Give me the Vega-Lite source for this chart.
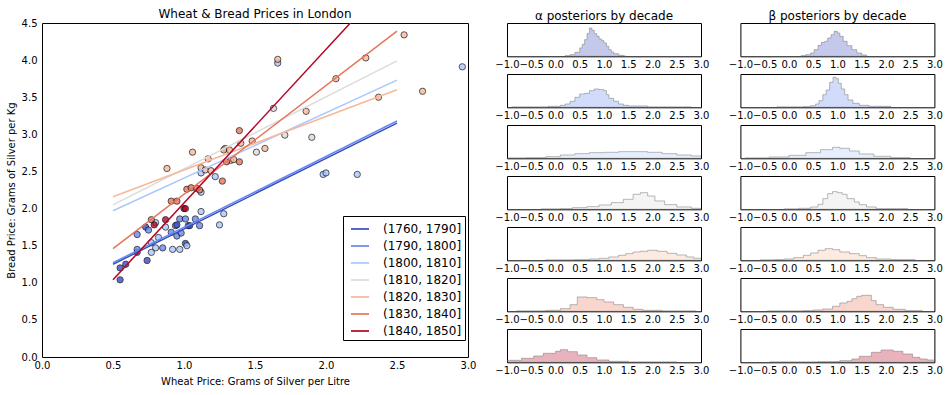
{
  "$schema": "https://vega.github.io/schema/vega-lite/v6.json",
  "padding": {"left": 5, "top": 7, "right": 5, "bottom": 5},
  "spacing": 17,
  "config": {
    "font": "DejaVu Sans",
    "view": {"stroke": "black", "strokeWidth": 1},
    "title": {"fontSize": 12, "fontWeight": "normal", "color": "black", "font": "DejaVu Sans", "offset": 4},
    "axis": {"labelFontSize": 10, "titleFontSize": 10, "titleFontWeight": "normal", "grid": false, "ticks": false, "domain": false, "labelColor": "black", "titleColor": "black", "labelFlush": false, "labelOverlap": false, "labelBound": false, "labelFont": "DejaVu Sans", "titleFont": "DejaVu Sans"},
    "legend": {"labelFont": "DejaVu Sans"}
  },
  "datasets": {
    "pts": [
      {"decade": "(1760, 1790]", "x": 0.55, "y": 1.04},
      {"decade": "(1760, 1790]", "x": 0.55, "y": 1.20},
      {"decade": "(1760, 1790]", "x": 0.59, "y": 1.25},
      {"decade": "(1760, 1790]", "x": 0.74, "y": 1.30},
      {"decade": "(1760, 1790]", "x": 0.67, "y": 1.41},
      {"decade": "(1790, 1800]", "x": 0.67, "y": 1.45},
      {"decade": "(1790, 1800]", "x": 0.85, "y": 1.47},
      {"decade": "(1790, 1800]", "x": 0.67, "y": 1.65},
      {"decade": "(1760, 1790]", "x": 0.73, "y": 1.75},
      {"decade": "(1790, 1800]", "x": 0.75, "y": 1.71},
      {"decade": "(1790, 1800]", "x": 0.91, "y": 1.68},
      {"decade": "(1790, 1800]", "x": 0.95, "y": 1.63},
      {"decade": "(1790, 1800]", "x": 0.98, "y": 1.67},
      {"decade": "(1790, 1800]", "x": 0.94, "y": 1.77},
      {"decade": "(1760, 1790]", "x": 0.95, "y": 1.78},
      {"decade": "(1790, 1800]", "x": 0.97, "y": 1.86},
      {"decade": "(1790, 1800]", "x": 1.01, "y": 1.86},
      {"decade": "(1790, 1800]", "x": 1.03, "y": 1.77},
      {"decade": "(1760, 1790]", "x": 1.04, "y": 1.77},
      {"decade": "(1790, 1800]", "x": 1.08, "y": 1.86},
      {"decade": "(1790, 1800]", "x": 1.11, "y": 1.77},
      {"decade": "(1760, 1790]", "x": 1.01, "y": 1.53},
      {"decade": "(1800, 1810]", "x": 1.02, "y": 1.50},
      {"decade": "(1800, 1810]", "x": 0.92, "y": 1.45},
      {"decade": "(1800, 1810]", "x": 0.97, "y": 1.45},
      {"decade": "(1800, 1810]", "x": 0.77, "y": 1.54},
      {"decade": "(1800, 1810]", "x": 0.80, "y": 1.47},
      {"decade": "(1800, 1810]", "x": 0.77, "y": 1.41},
      {"decade": "(1800, 1810]", "x": 0.82, "y": 1.61},
      {"decade": "(1800, 1810]", "x": 0.87, "y": 1.75},
      {"decade": "(1800, 1810]", "x": 0.80, "y": 1.81},
      {"decade": "(1800, 1810]", "x": 1.12, "y": 1.96},
      {"decade": "(1800, 1810]", "x": 1.25, "y": 1.78},
      {"decade": "(1800, 1810]", "x": 1.28, "y": 1.93},
      {"decade": "(1800, 1810]", "x": 1.12, "y": 2.22},
      {"decade": "(1800, 1810]", "x": 1.12, "y": 2.48},
      {"decade": "(1800, 1810]", "x": 1.22, "y": 2.43},
      {"decade": "(1800, 1810]", "x": 1.98, "y": 2.46},
      {"decade": "(1800, 1810]", "x": 2.00, "y": 2.48},
      {"decade": "(1800, 1810]", "x": 2.22, "y": 2.46},
      {"decade": "(1800, 1810]", "x": 2.96, "y": 3.91},
      {"decade": "(1800, 1810]", "x": 1.66, "y": 3.96},
      {"decade": "(1810, 1820]", "x": 1.63, "y": 3.35},
      {"decade": "(1810, 1820]", "x": 1.71, "y": 2.99},
      {"decade": "(1810, 1820]", "x": 1.90, "y": 2.96},
      {"decade": "(1810, 1820]", "x": 1.51, "y": 2.76},
      {"decade": "(1820, 1830]", "x": 2.55, "y": 4.34},
      {"decade": "(1820, 1830]", "x": 2.68, "y": 3.58},
      {"decade": "(1820, 1830]", "x": 2.37, "y": 3.50},
      {"decade": "(1820, 1830]", "x": 2.28, "y": 4.03},
      {"decade": "(1820, 1830]", "x": 2.07, "y": 3.75},
      {"decade": "(1820, 1830]", "x": 1.66, "y": 4.01},
      {"decade": "(1820, 1830]", "x": 1.86, "y": 3.31},
      {"decade": "(1820, 1830]", "x": 0.88, "y": 2.54},
      {"decade": "(1820, 1830]", "x": 1.06, "y": 2.76},
      {"decade": "(1820, 1830]", "x": 1.17, "y": 2.67},
      {"decade": "(1820, 1830]", "x": 1.12, "y": 2.55},
      {"decade": "(1820, 1830]", "x": 1.29, "y": 2.81},
      {"decade": "(1820, 1830]", "x": 1.28, "y": 2.79},
      {"decade": "(1820, 1830]", "x": 1.32, "y": 2.79},
      {"decade": "(1820, 1830]", "x": 1.33, "y": 2.65},
      {"decade": "(1820, 1830]", "x": 1.35, "y": 2.66},
      {"decade": "(1820, 1830]", "x": 1.40, "y": 2.88},
      {"decade": "(1820, 1830]", "x": 1.48, "y": 2.91},
      {"decade": "(1820, 1830]", "x": 1.57, "y": 2.81},
      {"decade": "(1820, 1830]", "x": 1.15, "y": 2.52},
      {"decade": "(1820, 1830]", "x": 1.19, "y": 2.51},
      {"decade": "(1830, 1840]", "x": 1.39, "y": 3.05},
      {"decade": "(1830, 1840]", "x": 1.27, "y": 2.37},
      {"decade": "(1830, 1840]", "x": 1.30, "y": 2.63},
      {"decade": "(1830, 1840]", "x": 1.39, "y": 2.63},
      {"decade": "(1830, 1840]", "x": 1.02, "y": 2.26},
      {"decade": "(1830, 1840]", "x": 1.05, "y": 2.28},
      {"decade": "(1830, 1840]", "x": 1.09, "y": 2.27},
      {"decade": "(1830, 1840]", "x": 1.11, "y": 2.25},
      {"decade": "(1830, 1840]", "x": 0.91, "y": 2.10},
      {"decade": "(1830, 1840]", "x": 0.95, "y": 2.10},
      {"decade": "(1830, 1840]", "x": 0.77, "y": 1.85},
      {"decade": "(1840, 1850]", "x": 1.00, "y": 2.00},
      {"decade": "(1840, 1850]", "x": 1.01, "y": 2.00},
      {"decade": "(1840, 1850]", "x": 0.87, "y": 1.85},
      {"decade": "(1840, 1850]", "x": 0.79, "y": 1.78}
    ],
    "fits": [
      {"decade": "(1760, 1790]", "x": 0.5, "y": 1.25}, {"decade": "(1760, 1790]", "x": 2.5, "y": 3.15},
      {"decade": "(1790, 1800]", "x": 0.5, "y": 1.27}, {"decade": "(1790, 1800]", "x": 2.5, "y": 3.18},
      {"decade": "(1800, 1810]", "x": 0.5, "y": 1.97}, {"decade": "(1800, 1810]", "x": 2.5, "y": 3.73},
      {"decade": "(1810, 1820]", "x": 0.5, "y": 2.05}, {"decade": "(1810, 1820]", "x": 2.5, "y": 3.99},
      {"decade": "(1820, 1830]", "x": 0.5, "y": 2.16}, {"decade": "(1820, 1830]", "x": 2.5, "y": 3.60},
      {"decade": "(1830, 1840]", "x": 0.5, "y": 1.46}, {"decade": "(1830, 1840]", "x": 2.5, "y": 4.39},
      {"decade": "(1840, 1850]", "x": 0.5, "y": 1.04}, {"decade": "(1840, 1850]", "x": 2.5, "y": 5.18}
    ],
    "hist": [
      {"param": "α", "decade": "(1760, 1790]", "x": 0.2, "h": 0.02},
      {"param": "α", "decade": "(1760, 1790]", "x": 0.3, "h": 0.05},
      {"param": "α", "decade": "(1760, 1790]", "x": 0.4, "h": 0.12},
      {"param": "α", "decade": "(1760, 1790]", "x": 0.5, "h": 0.25},
      {"param": "α", "decade": "(1760, 1790]", "x": 0.55, "h": 0.36},
      {"param": "α", "decade": "(1760, 1790]", "x": 0.6, "h": 0.5},
      {"param": "α", "decade": "(1760, 1790]", "x": 0.65, "h": 0.68},
      {"param": "α", "decade": "(1760, 1790]", "x": 0.7, "h": 0.85},
      {"param": "α", "decade": "(1760, 1790]", "x": 0.75, "h": 0.78},
      {"param": "α", "decade": "(1760, 1790]", "x": 0.8, "h": 0.68},
      {"param": "α", "decade": "(1760, 1790]", "x": 0.85, "h": 0.6},
      {"param": "α", "decade": "(1760, 1790]", "x": 0.9, "h": 0.52},
      {"param": "α", "decade": "(1760, 1790]", "x": 0.95, "h": 0.47},
      {"param": "α", "decade": "(1760, 1790]", "x": 1.0, "h": 0.4},
      {"param": "α", "decade": "(1760, 1790]", "x": 1.05, "h": 0.3},
      {"param": "α", "decade": "(1760, 1790]", "x": 1.1, "h": 0.2},
      {"param": "α", "decade": "(1760, 1790]", "x": 1.15, "h": 0.13},
      {"param": "α", "decade": "(1760, 1790]", "x": 1.2, "h": 0.08},
      {"param": "α", "decade": "(1760, 1790]", "x": 1.3, "h": 0.03},
      {"param": "α", "decade": "(1760, 1790]", "x": 1.4, "h": 0.01},
      {"param": "α", "decade": "(1760, 1790]", "x": 1.45, "h": 0},

      {"param": "α", "decade": "(1790, 1800]", "x": -0.9, "h": 0.01},
      {"param": "α", "decade": "(1790, 1800]", "x": -0.15, "h": 0.03},
      {"param": "α", "decade": "(1790, 1800]", "x": 0.1, "h": 0.06},
      {"param": "α", "decade": "(1790, 1800]", "x": 0.2, "h": 0.1},
      {"param": "α", "decade": "(1790, 1800]", "x": 0.3, "h": 0.18},
      {"param": "α", "decade": "(1790, 1800]", "x": 0.4, "h": 0.3},
      {"param": "α", "decade": "(1790, 1800]", "x": 0.5, "h": 0.4},
      {"param": "α", "decade": "(1790, 1800]", "x": 0.6, "h": 0.42},
      {"param": "α", "decade": "(1790, 1800]", "x": 0.7, "h": 0.5},
      {"param": "α", "decade": "(1790, 1800]", "x": 0.8, "h": 0.55},
      {"param": "α", "decade": "(1790, 1800]", "x": 0.9, "h": 0.53},
      {"param": "α", "decade": "(1790, 1800]", "x": 1.0, "h": 0.5},
      {"param": "α", "decade": "(1790, 1800]", "x": 1.05, "h": 0.38},
      {"param": "α", "decade": "(1790, 1800]", "x": 1.1, "h": 0.27},
      {"param": "α", "decade": "(1790, 1800]", "x": 1.2, "h": 0.18},
      {"param": "α", "decade": "(1790, 1800]", "x": 1.3, "h": 0.1},
      {"param": "α", "decade": "(1790, 1800]", "x": 1.4, "h": 0.06},
      {"param": "α", "decade": "(1790, 1800]", "x": 1.5, "h": 0.04},
      {"param": "α", "decade": "(1790, 1800]", "x": 1.9, "h": 0.01},
      {"param": "α", "decade": "(1790, 1800]", "x": 2.8, "h": 0},

      {"param": "α", "decade": "(1800, 1810]", "x": -1.0, "h": 0.01},
      {"param": "α", "decade": "(1800, 1810]", "x": -0.6, "h": 0.02},
      {"param": "α", "decade": "(1800, 1810]", "x": -0.2, "h": 0.05},
      {"param": "α", "decade": "(1800, 1810]", "x": 0.1, "h": 0.1},
      {"param": "α", "decade": "(1800, 1810]", "x": 0.4, "h": 0.14},
      {"param": "α", "decade": "(1800, 1810]", "x": 0.7, "h": 0.17},
      {"param": "α", "decade": "(1800, 1810]", "x": 1.0, "h": 0.18},
      {"param": "α", "decade": "(1800, 1810]", "x": 1.3, "h": 0.2},
      {"param": "α", "decade": "(1800, 1810]", "x": 1.6, "h": 0.2},
      {"param": "α", "decade": "(1800, 1810]", "x": 1.9, "h": 0.18},
      {"param": "α", "decade": "(1800, 1810]", "x": 2.2, "h": 0.14},
      {"param": "α", "decade": "(1800, 1810]", "x": 2.5, "h": 0.1},
      {"param": "α", "decade": "(1800, 1810]", "x": 2.8, "h": 0.07},
      {"param": "α", "decade": "(1800, 1810]", "x": 3.0, "h": 0.06},
      {"param": "α", "decade": "(1800, 1810]", "x": 3.2, "h": 0},

      {"param": "α", "decade": "(1810, 1820]", "x": -0.3, "h": 0.01},
      {"param": "α", "decade": "(1810, 1820]", "x": 0.1, "h": 0.02},
      {"param": "α", "decade": "(1810, 1820]", "x": 0.35, "h": 0.05},
      {"param": "α", "decade": "(1810, 1820]", "x": 0.65, "h": 0.08},
      {"param": "α", "decade": "(1810, 1820]", "x": 0.9, "h": 0.13},
      {"param": "α", "decade": "(1810, 1820]", "x": 1.15, "h": 0.2},
      {"param": "α", "decade": "(1810, 1820]", "x": 1.4, "h": 0.3},
      {"param": "α", "decade": "(1810, 1820]", "x": 1.6, "h": 0.45},
      {"param": "α", "decade": "(1810, 1820]", "x": 1.75, "h": 0.5},
      {"param": "α", "decade": "(1810, 1820]", "x": 1.9, "h": 0.4},
      {"param": "α", "decade": "(1810, 1820]", "x": 2.05, "h": 0.25},
      {"param": "α", "decade": "(1810, 1820]", "x": 2.25, "h": 0.14},
      {"param": "α", "decade": "(1810, 1820]", "x": 2.5, "h": 0.07},
      {"param": "α", "decade": "(1810, 1820]", "x": 2.8, "h": 0.03},
      {"param": "α", "decade": "(1810, 1820]", "x": 3.0, "h": 0.02},
      {"param": "α", "decade": "(1810, 1820]", "x": 3.2, "h": 0},

      {"param": "α", "decade": "(1820, 1830]", "x": -0.2, "h": 0.01},
      {"param": "α", "decade": "(1820, 1830]", "x": 0.4, "h": 0.02},
      {"param": "α", "decade": "(1820, 1830]", "x": 0.7, "h": 0.04},
      {"param": "α", "decade": "(1820, 1830]", "x": 0.9, "h": 0.06},
      {"param": "α", "decade": "(1820, 1830]", "x": 1.1, "h": 0.1},
      {"param": "α", "decade": "(1820, 1830]", "x": 1.3, "h": 0.15},
      {"param": "α", "decade": "(1820, 1830]", "x": 1.45, "h": 0.2},
      {"param": "α", "decade": "(1820, 1830]", "x": 1.6, "h": 0.25},
      {"param": "α", "decade": "(1820, 1830]", "x": 1.75, "h": 0.27},
      {"param": "α", "decade": "(1820, 1830]", "x": 1.9, "h": 0.3},
      {"param": "α", "decade": "(1820, 1830]", "x": 2.1, "h": 0.27},
      {"param": "α", "decade": "(1820, 1830]", "x": 2.3, "h": 0.21},
      {"param": "α", "decade": "(1820, 1830]", "x": 2.5, "h": 0.16},
      {"param": "α", "decade": "(1820, 1830]", "x": 2.7, "h": 0.1},
      {"param": "α", "decade": "(1820, 1830]", "x": 2.85, "h": 0.06},
      {"param": "α", "decade": "(1820, 1830]", "x": 3.0, "h": 0.04},
      {"param": "α", "decade": "(1820, 1830]", "x": 3.2, "h": 0},

      {"param": "α", "decade": "(1830, 1840]", "x": -0.8, "h": 0.01},
      {"param": "α", "decade": "(1830, 1840]", "x": -0.2, "h": 0.03},
      {"param": "α", "decade": "(1830, 1840]", "x": 0.1, "h": 0.08},
      {"param": "α", "decade": "(1830, 1840]", "x": 0.3, "h": 0.2},
      {"param": "α", "decade": "(1830, 1840]", "x": 0.45, "h": 0.43},
      {"param": "α", "decade": "(1830, 1840]", "x": 0.65, "h": 0.41},
      {"param": "α", "decade": "(1830, 1840]", "x": 0.85, "h": 0.35},
      {"param": "α", "decade": "(1830, 1840]", "x": 1.0, "h": 0.28},
      {"param": "α", "decade": "(1830, 1840]", "x": 1.2, "h": 0.2},
      {"param": "α", "decade": "(1830, 1840]", "x": 1.4, "h": 0.12},
      {"param": "α", "decade": "(1830, 1840]", "x": 1.6, "h": 0.06},
      {"param": "α", "decade": "(1830, 1840]", "x": 1.8, "h": 0.03},
      {"param": "α", "decade": "(1830, 1840]", "x": 2.2, "h": 0.01},
      {"param": "α", "decade": "(1830, 1840]", "x": 2.9, "h": 0},

      {"param": "α", "decade": "(1840, 1850]", "x": -1.2, "h": 0.04},
      {"param": "α", "decade": "(1840, 1850]", "x": -1.0, "h": 0.06},
      {"param": "α", "decade": "(1840, 1850]", "x": -0.7, "h": 0.12},
      {"param": "α", "decade": "(1840, 1850]", "x": -0.45, "h": 0.19},
      {"param": "α", "decade": "(1840, 1850]", "x": -0.25, "h": 0.27},
      {"param": "α", "decade": "(1840, 1850]", "x": 0.0, "h": 0.33},
      {"param": "α", "decade": "(1840, 1850]", "x": 0.1, "h": 0.38},
      {"param": "α", "decade": "(1840, 1850]", "x": 0.25, "h": 0.32},
      {"param": "α", "decade": "(1840, 1850]", "x": 0.45, "h": 0.22},
      {"param": "α", "decade": "(1840, 1850]", "x": 0.65, "h": 0.14},
      {"param": "α", "decade": "(1840, 1850]", "x": 0.85, "h": 0.07},
      {"param": "α", "decade": "(1840, 1850]", "x": 1.1, "h": 0.03},
      {"param": "α", "decade": "(1840, 1850]", "x": 1.5, "h": 0.01},
      {"param": "α", "decade": "(1840, 1850]", "x": 2.5, "h": 0},

      {"param": "β", "decade": "(1760, 1790]", "x": 0.25, "h": 0.02},
      {"param": "β", "decade": "(1760, 1790]", "x": 0.35, "h": 0.05},
      {"param": "β", "decade": "(1760, 1790]", "x": 0.45, "h": 0.1},
      {"param": "β", "decade": "(1760, 1790]", "x": 0.52, "h": 0.2},
      {"param": "β", "decade": "(1760, 1790]", "x": 0.6, "h": 0.33},
      {"param": "β", "decade": "(1760, 1790]", "x": 0.67, "h": 0.42},
      {"param": "β", "decade": "(1760, 1790]", "x": 0.74, "h": 0.45},
      {"param": "β", "decade": "(1760, 1790]", "x": 0.8, "h": 0.55},
      {"param": "β", "decade": "(1760, 1790]", "x": 0.87, "h": 0.65},
      {"param": "β", "decade": "(1760, 1790]", "x": 0.93, "h": 0.75},
      {"param": "β", "decade": "(1760, 1790]", "x": 1.0, "h": 0.7},
      {"param": "β", "decade": "(1760, 1790]", "x": 1.05, "h": 0.6},
      {"param": "β", "decade": "(1760, 1790]", "x": 1.12, "h": 0.45},
      {"param": "β", "decade": "(1760, 1790]", "x": 1.2, "h": 0.32},
      {"param": "β", "decade": "(1760, 1790]", "x": 1.3, "h": 0.2},
      {"param": "β", "decade": "(1760, 1790]", "x": 1.4, "h": 0.1},
      {"param": "β", "decade": "(1760, 1790]", "x": 1.5, "h": 0.04},
      {"param": "β", "decade": "(1760, 1790]", "x": 1.6, "h": 0},

      {"param": "β", "decade": "(1790, 1800]", "x": -0.25, "h": 0.01},
      {"param": "β", "decade": "(1790, 1800]", "x": 0.3, "h": 0.02},
      {"param": "β", "decade": "(1790, 1800]", "x": 0.45, "h": 0.05},
      {"param": "β", "decade": "(1790, 1800]", "x": 0.55, "h": 0.1},
      {"param": "β", "decade": "(1790, 1800]", "x": 0.62, "h": 0.2},
      {"param": "β", "decade": "(1790, 1800]", "x": 0.7, "h": 0.38},
      {"param": "β", "decade": "(1790, 1800]", "x": 0.77, "h": 0.52},
      {"param": "β", "decade": "(1790, 1800]", "x": 0.84, "h": 0.75},
      {"param": "β", "decade": "(1790, 1800]", "x": 0.91, "h": 0.9},
      {"param": "β", "decade": "(1790, 1800]", "x": 0.97, "h": 0.86},
      {"param": "β", "decade": "(1790, 1800]", "x": 1.02, "h": 0.72},
      {"param": "β", "decade": "(1790, 1800]", "x": 1.08, "h": 0.55},
      {"param": "β", "decade": "(1790, 1800]", "x": 1.15, "h": 0.38},
      {"param": "β", "decade": "(1790, 1800]", "x": 1.22, "h": 0.22},
      {"param": "β", "decade": "(1790, 1800]", "x": 1.32, "h": 0.12},
      {"param": "β", "decade": "(1790, 1800]", "x": 1.45, "h": 0.06},
      {"param": "β", "decade": "(1790, 1800]", "x": 1.65, "h": 0.03},
      {"param": "β", "decade": "(1790, 1800]", "x": 2.1, "h": 0},

      {"param": "β", "decade": "(1800, 1810]", "x": -0.9, "h": 0.01},
      {"param": "β", "decade": "(1800, 1810]", "x": -0.4, "h": 0.04},
      {"param": "β", "decade": "(1800, 1810]", "x": 0.0, "h": 0.09},
      {"param": "β", "decade": "(1800, 1810]", "x": 0.35, "h": 0.17},
      {"param": "β", "decade": "(1800, 1810]", "x": 0.65, "h": 0.26},
      {"param": "β", "decade": "(1800, 1810]", "x": 0.9, "h": 0.33},
      {"param": "β", "decade": "(1800, 1810]", "x": 1.05, "h": 0.3},
      {"param": "β", "decade": "(1800, 1810]", "x": 1.25, "h": 0.22},
      {"param": "β", "decade": "(1800, 1810]", "x": 1.45, "h": 0.13},
      {"param": "β", "decade": "(1800, 1810]", "x": 1.75, "h": 0.06},
      {"param": "β", "decade": "(1800, 1810]", "x": 2.1, "h": 0.02},
      {"param": "β", "decade": "(1800, 1810]", "x": 2.5, "h": 0},

      {"param": "β", "decade": "(1810, 1820]", "x": -0.1, "h": 0.01},
      {"param": "β", "decade": "(1810, 1820]", "x": 0.2, "h": 0.03},
      {"param": "β", "decade": "(1810, 1820]", "x": 0.45, "h": 0.07},
      {"param": "β", "decade": "(1810, 1820]", "x": 0.6, "h": 0.15},
      {"param": "β", "decade": "(1810, 1820]", "x": 0.7, "h": 0.32},
      {"param": "β", "decade": "(1810, 1820]", "x": 0.8, "h": 0.47},
      {"param": "β", "decade": "(1810, 1820]", "x": 0.9, "h": 0.53},
      {"param": "β", "decade": "(1810, 1820]", "x": 1.0, "h": 0.5},
      {"param": "β", "decade": "(1810, 1820]", "x": 1.1, "h": 0.45},
      {"param": "β", "decade": "(1810, 1820]", "x": 1.2, "h": 0.32},
      {"param": "β", "decade": "(1810, 1820]", "x": 1.35, "h": 0.22},
      {"param": "β", "decade": "(1810, 1820]", "x": 1.45, "h": 0.14},
      {"param": "β", "decade": "(1810, 1820]", "x": 1.6, "h": 0.07},
      {"param": "β", "decade": "(1810, 1820]", "x": 1.8, "h": 0.02},
      {"param": "β", "decade": "(1810, 1820]", "x": 2.45, "h": 0},

      {"param": "β", "decade": "(1820, 1830]", "x": -0.6, "h": 0.01},
      {"param": "β", "decade": "(1820, 1830]", "x": -0.3, "h": 0.02},
      {"param": "β", "decade": "(1820, 1830]", "x": -0.1, "h": 0.04},
      {"param": "β", "decade": "(1820, 1830]", "x": 0.1, "h": 0.08},
      {"param": "β", "decade": "(1820, 1830]", "x": 0.3, "h": 0.15},
      {"param": "β", "decade": "(1820, 1830]", "x": 0.45, "h": 0.22},
      {"param": "β", "decade": "(1820, 1830]", "x": 0.6, "h": 0.3},
      {"param": "β", "decade": "(1820, 1830]", "x": 0.75, "h": 0.35},
      {"param": "β", "decade": "(1820, 1830]", "x": 0.9, "h": 0.32},
      {"param": "β", "decade": "(1820, 1830]", "x": 1.05, "h": 0.25},
      {"param": "β", "decade": "(1820, 1830]", "x": 1.25, "h": 0.2},
      {"param": "β", "decade": "(1820, 1830]", "x": 1.45, "h": 0.14},
      {"param": "β", "decade": "(1820, 1830]", "x": 1.6, "h": 0.08},
      {"param": "β", "decade": "(1820, 1830]", "x": 1.8, "h": 0.04},
      {"param": "β", "decade": "(1820, 1830]", "x": 2.1, "h": 0.02},
      {"param": "β", "decade": "(1820, 1830]", "x": 2.6, "h": 0},

      {"param": "β", "decade": "(1830, 1840]", "x": -0.45, "h": 0.01},
      {"param": "β", "decade": "(1830, 1840]", "x": 0.3, "h": 0.02},
      {"param": "β", "decade": "(1830, 1840]", "x": 0.5, "h": 0.04},
      {"param": "β", "decade": "(1830, 1840]", "x": 0.7, "h": 0.07},
      {"param": "β", "decade": "(1830, 1840]", "x": 0.9, "h": 0.15},
      {"param": "β", "decade": "(1830, 1840]", "x": 1.05, "h": 0.25},
      {"param": "β", "decade": "(1830, 1840]", "x": 1.2, "h": 0.3},
      {"param": "β", "decade": "(1830, 1840]", "x": 1.3, "h": 0.38},
      {"param": "β", "decade": "(1830, 1840]", "x": 1.4, "h": 0.45},
      {"param": "β", "decade": "(1830, 1840]", "x": 1.5, "h": 0.48},
      {"param": "β", "decade": "(1830, 1840]", "x": 1.7, "h": 0.32},
      {"param": "β", "decade": "(1830, 1840]", "x": 1.8, "h": 0.2},
      {"param": "β", "decade": "(1830, 1840]", "x": 1.95, "h": 0.12},
      {"param": "β", "decade": "(1830, 1840]", "x": 2.15, "h": 0.06},
      {"param": "β", "decade": "(1830, 1840]", "x": 2.4, "h": 0.02},
      {"param": "β", "decade": "(1830, 1840]", "x": 2.75, "h": 0},

      {"param": "β", "decade": "(1840, 1850]", "x": -0.4, "h": 0.01},
      {"param": "β", "decade": "(1840, 1850]", "x": 0.6, "h": 0.02},
      {"param": "β", "decade": "(1840, 1850]", "x": 1.05, "h": 0.05},
      {"param": "β", "decade": "(1840, 1850]", "x": 1.3, "h": 0.1},
      {"param": "β", "decade": "(1840, 1850]", "x": 1.45, "h": 0.18},
      {"param": "β", "decade": "(1840, 1850]", "x": 1.7, "h": 0.3},
      {"param": "β", "decade": "(1840, 1850]", "x": 1.9, "h": 0.37},
      {"param": "β", "decade": "(1840, 1850]", "x": 2.15, "h": 0.33},
      {"param": "β", "decade": "(1840, 1850]", "x": 2.35, "h": 0.25},
      {"param": "β", "decade": "(1840, 1850]", "x": 2.55, "h": 0.15},
      {"param": "β", "decade": "(1840, 1850]", "x": 2.7, "h": 0.1},
      {"param": "β", "decade": "(1840, 1850]", "x": 2.85, "h": 0.07},
      {"param": "β", "decade": "(1840, 1850]", "x": 3.0, "h": 0.05},
      {"param": "β", "decade": "(1840, 1850]", "x": 3.2, "h": 0}
    ]
  },
  "hconcat": [
    {
      "width": 426,
      "height": 334,
      "title": {"text": "Wheat & Bread Prices in London", "offset": -3},
      "encoding": {
        "x": {"field": "x", "type": "quantitative", "scale": {"domain": [0, 3], "nice": false, "zero": false},
              "axis": {"title": "Wheat Price: Grams of Silver per Litre", "values": [0, 0.5, 1, 1.5, 2, 2.5, 3], "format": ".1f", "labelPadding": 3, "titlePadding": 6, "labelOverlap": false}},
        "y": {"field": "y", "type": "quantitative", "scale": {"domain": [0, 4.5], "nice": false, "zero": false},
              "axis": {"title": "Bread Price: Grams of Silver per Kg", "values": [0, 0.5, 1, 1.5, 2, 2.5, 3, 3.5, 4, 4.5], "format": ".1f", "labelPadding": 5, "titlePadding": 5, "labelOverlap": false}},
        "color": {"field": "decade", "type": "nominal",
                  "scale": {"domain": ["(1760, 1790]", "(1790, 1800]", "(1800, 1810]", "(1810, 1820]", "(1820, 1830]", "(1830, 1840]", "(1840, 1850]"],
                            "range": ["#3b4cc0", "#6788ee", "#aac7fd", "#dddcdc", "#f7b89c", "#e7745b", "#b40426"]},
                  "legend": {"orient": "none", "legendX": 301, "legendY": 193, "title": null, "symbolType": "stroke", "symbolSize": 324, "symbolStrokeWidth": 2, "symbolOffset": 4, "labelFontSize": 12, "labelOffset": 13, "padding": 3, "rowPadding": 1, "strokeColor": "black", "fillColor": "white", "labelColor": "black", "symbolOpacity": 0.85}}
      },
      "layer": [
        {
          "data": {"name": "pts"},
          "mark": {"type": "point", "filled": true, "size": 40, "opacity": 0.8, "stroke": "black", "strokeWidth": 0.8}
        },
        {
          "data": {"name": "fits"},
          "mark": {"type": "line", "clip": true, "strokeWidth": 1.5}
        }
      ]
    },
    {
      "data": {"name": "hist"},
      "facet": {
        "row": {"field": "decade", "type": "nominal", "header": null},
        "column": {"field": "param", "type": "nominal", "title": null,
                   "header": {"labelExpr": "datum.value + ' posteriors by decade'", "labelFontSize": 12, "labelColor": "black", "labelFont": "DejaVu Sans", "labelPadding": 0, "title": null}}
      },
      "spacing": {"row": 17, "column": 39.4},
      "bounds": "flush",
      "resolve": {"axis": {"x": "independent"}},
      "spec": {
        "width": 194,
        "height": 33.3,
        "mark": {"type": "area", "interpolate": "step-after", "clip": true, "fillOpacity": 0.3, "stroke": "#777777", "strokeOpacity": 0.5, "strokeWidth": 1},
        "encoding": {
          "x": {"field": "x", "type": "quantitative", "scale": {"domain": [-1, 3], "nice": false, "zero": false},
                "axis": {"title": null, "values": [-1, -0.5, 0, 0.5, 1, 1.5, 2, 2.5, 3], "format": ".1f", "labelPadding": 3, "labelOverlap": false}},
          "y": {"field": "h", "type": "quantitative", "stack": null, "scale": {"domain": [0, 1]}, "axis": null},
          "fill": {"field": "decade", "type": "nominal", "legend": null,
                   "scale": {"domain": ["(1760, 1790]", "(1790, 1800]", "(1800, 1810]", "(1810, 1820]", "(1820, 1830]", "(1830, 1840]", "(1840, 1850]"],
                             "range": ["#3b4cc0", "#6788ee", "#aac7fd", "#dddcdc", "#f7b89c", "#e7745b", "#b40426"]}}
        }
      }
    }
  ],
  "resolve": {"scale": {"x": "independent", "y": "independent"}}
}
